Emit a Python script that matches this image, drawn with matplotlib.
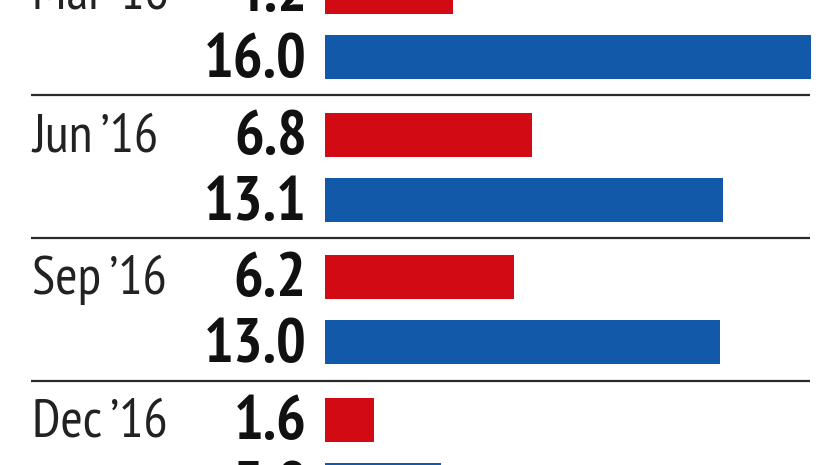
import matplotlib
matplotlib.use("Agg")
import matplotlib.pyplot as plt

months = ["Mar \u201916", "Jun \u201916", "Sep \u201916", "Dec \u201916"]
red_vals = [4.2, 6.8, 6.2, 1.6]
blue_vals = [16.0, 13.1, 13.0, 3.8]

RED = "#D20A14"
BLUE = "#1259AA"

fig = plt.figure(figsize=(8.26, 4.65), dpi=100)
ax = fig.add_axes([0, 0, 1, 1])

# y in pixel-like units (top = 0), x in value units
px_per_unit = 30.36
x0 = 325.5  # pixel where bars start
ax.set_xlim(-x0 / px_per_unit, (826 - x0) / px_per_unit)
ax.set_ylim(465, 0)
ax.axis("off")

pitch = 142.5
first_red = -8
gap = 65
bar_h = 44

fnt = ["PT Sans Narrow", "DejaVu Sans"]
label_x = (307 - x0) / px_per_unit
month_x = (32 - x0) / px_per_unit
line_x0 = (31 - x0) / px_per_unit
line_x1 = (810 - x0) / px_per_unit

for i, m in enumerate(months):
    yr = first_red + i * pitch
    yb = yr + gap
    ax.barh(yr, red_vals[i], height=bar_h, color=RED, left=0)
    ax.barh(yb, blue_vals[i], height=bar_h, color=BLUE, left=0)
    ax.text(label_x, yr + 3, f"{red_vals[i]:.1f}", ha="right", va="center",
            fontsize=45, fontweight="bold", family=fnt, color="#111111")
    ax.text(label_x, yb + 4, f"{blue_vals[i]:.1f}", ha="right", va="center",
            fontsize=45, fontweight="bold", family=fnt, color="#111111")
    ax.text(month_x, yr + 3, m, ha="left", va="center",
            fontsize=39, family=fnt, color="#222222")
    if i > 0:
        ax.plot([line_x0, line_x1], [yr - 39, yr - 39], color="#2a2a2a", lw=1.6,
                solid_capstyle="butt")

fig.savefig("out.png", dpi=100)
